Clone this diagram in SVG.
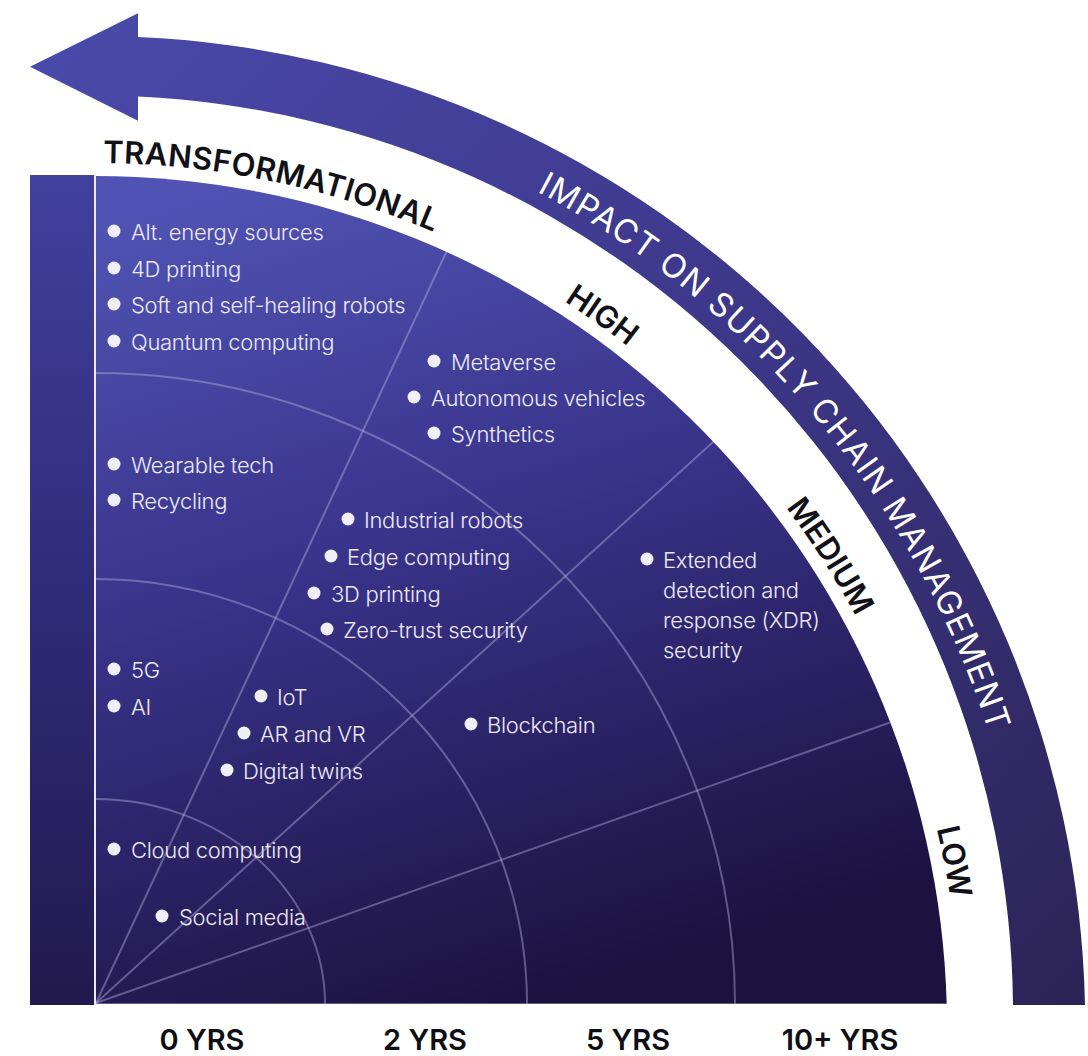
<svg xmlns="http://www.w3.org/2000/svg" width="1088" height="1056" viewBox="0 0 1088 1056">
  <defs>
    <linearGradient id="bandFill" gradientUnits="userSpaceOnUse" x1="60" y1="40" x2="1060" y2="1000">
      <stop offset="0" stop-color="#4949a9"/>
      <stop offset="0.5" stop-color="#3d3789"/>
      <stop offset="1" stop-color="#2c2457"/>
    </linearGradient>
    <linearGradient id="discFill" gradientUnits="userSpaceOnUse" x1="260" y1="176" x2="520" y2="1004">
      <stop offset="0" stop-color="#5053b3"/>
      <stop offset="0.45" stop-color="#39338a"/>
      <stop offset="1" stop-color="#1c1240"/>
    </linearGradient>
    <linearGradient id="barFill" gradientUnits="userSpaceOnUse" x1="0" y1="175" x2="0" y2="1005">
      <stop offset="0" stop-color="#42409e"/>
      <stop offset="0.5" stop-color="#302b78"/>
      <stop offset="1" stop-color="#22194e"/>
    </linearGradient>
    <clipPath id="discClip">
      <path d="M95,1004 L95,176 A852,852 0 0 1 946.7,1004 Z"/>
    </clipPath>
    <!-- baseline for the level labels in the white gap -->
    <path id="levelArc" d="M95,163 A865,865 0 0 1 960,1028"/>
    <!-- baseline for the title inside the curved arrow -->
    <path id="titleArc" d="M95,81 A939,939 0 0 1 1034,1020"/>
    <style>
      .grid { fill: none; stroke: #bdb6e6; stroke-opacity: 0.42; stroke-width: 2; }
      .dot { fill: #f0eff7; }
      .item { font-family: Inter, "Liberation Sans", sans-serif; font-size: 22px; font-weight: 300; fill: #ebe9f4; letter-spacing: -0.3px; }
      .level { font-family: Inter, "Liberation Sans", sans-serif; font-size: 31px; font-weight: 600; fill: #111118; }
      .title { font-family: Inter, "Liberation Sans", sans-serif; font-size: 33px; font-weight: 400; fill: #ffffff; }
      .years { font-family: Inter, "Liberation Sans", sans-serif; font-size: 29px; font-weight: 600; fill: #0e0e15; text-anchor: middle; }
    </style>
  </defs>

  <rect width="1088" height="1056" fill="#ffffff"/>

  <!-- curved arrow band -->
  <g id="impact-arrow">
    <path d="M30,66.7 L138,13.3 L138,37 A990,990 0 0 1 1085,1005 L1013,1005 A918,918 0 0 0 138,96.5 L138,120.7 Z" fill="url(#bandFill)"/>
    <text class="title"><textPath href="#titleArc" startOffset="460" textLength="722" lengthAdjust="spacing">IMPACT ON SUPPLY CHAIN MANAGEMENT</textPath></text>
  </g>

  <!-- left bar -->
  <rect id="side-bar" x="30" y="175" width="64" height="830" fill="url(#barFill)"/>

  <!-- quarter disc -->
  <g id="radar">
    <path d="M95,1004 L95,176 A852,852 0 0 1 946.7,1004 Z" fill="url(#discFill)"/>
  </g>

  <!-- grid: rings and rays -->
  <g id="connectors" clip-path="url(#discClip)">
    <path class="grid" d="M95,799 A230,205 0 0 1 325,1004"/>
    <path class="grid" d="M95,579 A432,425 0 0 1 527,1004"/>
    <path class="grid" d="M95,373 A640,631 0 0 1 735,1004"/>
    <line class="grid" x1="96" y1="1003" x2="520" y2="94"/>
    <line class="grid" x1="96" y1="1003" x2="900" y2="272"/>
    <line class="grid" x1="96" y1="1003" x2="1050" y2="666"/>
    <line class="grid" x1="95" y1="1004" x2="950" y2="1004"/>
  </g>
  <line id="axis" x1="95" y1="175" x2="95" y2="1005" stroke="#ecebf6" stroke-width="2"/>

  <!-- impact levels -->
  <g id="levels">
    <text class="level"><textPath href="#levelArc" startOffset="8" textLength="340" lengthAdjust="spacing">TRANSFORMATIONAL</textPath></text>
    <text class="level" text-anchor="middle"><textPath href="#levelArc" startOffset="535">HIGH</textPath></text>
    <text class="level" text-anchor="middle"><textPath href="#levelArc" startOffset="865">MEDIUM</textPath></text>
    <text class="level" text-anchor="middle"><textPath href="#levelArc" startOffset="1193">LOW</textPath></text>
  </g>

  <!-- time horizon labels -->
  <g id="horizons">
    <text class="years" x="202" y="1050">0 YRS</text>
    <text class="years" x="425" y="1050">2 YRS</text>
    <text class="years" x="628" y="1050">5 YRS</text>
    <text class="years" x="840" y="1050">10+ YRS</text>
  </g>

  <!-- technologies -->
  <g id="alt-energy"><circle class="dot" cx="114" cy="231" r="6.5"/><text class="item" x="131" y="240">Alt. energy sources</text></g>
  <g id="printing-4d"><circle class="dot" cx="114" cy="268" r="6.5"/><text class="item" x="131" y="277">4D printing</text></g>
  <g id="soft-robots"><circle class="dot" cx="114" cy="304" r="6.5"/><text class="item" x="131" y="313">Soft and self-healing robots</text></g>
  <g id="quantum"><circle class="dot" cx="114" cy="341" r="6.5"/><text class="item" x="131" y="350">Quantum computing</text></g>
  <g id="wearable"><circle class="dot" cx="114" cy="464" r="6.5"/><text class="item" x="131" y="473">Wearable tech</text></g>
  <g id="recycling"><circle class="dot" cx="114" cy="500" r="6.5"/><text class="item" x="131" y="509">Recycling</text></g>
  <g id="five-g"><circle class="dot" cx="114" cy="669" r="6.5"/><text class="item" x="131" y="678">5G</text></g>
  <g id="ai"><circle class="dot" cx="114" cy="706" r="6.5"/><text class="item" x="131" y="715">AI</text></g>
  <g id="cloud"><circle class="dot" cx="114" cy="849" r="6.5"/><text class="item" x="131" y="858">Cloud computing</text></g>
  <g id="social"><circle class="dot" cx="162" cy="916" r="6.5"/><text class="item" x="179" y="925">Social media</text></g>

  <g id="metaverse"><circle class="dot" cx="434" cy="361" r="6.5"/><text class="item" x="451" y="370">Metaverse</text></g>
  <g id="autonomous"><circle class="dot" cx="414" cy="397" r="6.5"/><text class="item" x="431" y="406">Autonomous vehicles</text></g>
  <g id="synthetics"><circle class="dot" cx="434" cy="433" r="6.5"/><text class="item" x="451" y="442">Synthetics</text></g>
  <g id="industrial-robots"><circle class="dot" cx="348" cy="519" r="6.5"/><text class="item" x="364" y="528">Industrial robots</text></g>
  <g id="edge"><circle class="dot" cx="331" cy="556" r="6.5"/><text class="item" x="347" y="565">Edge computing</text></g>
  <g id="printing-3d"><circle class="dot" cx="314" cy="593" r="6.5"/><text class="item" x="331" y="602">3D printing</text></g>
  <g id="zero-trust"><circle class="dot" cx="327" cy="629" r="6.5"/><text class="item" x="343" y="638">Zero-trust security</text></g>
  <g id="iot"><circle class="dot" cx="261" cy="696" r="6.5"/><text class="item" x="277" y="705">IoT</text></g>
  <g id="ar-vr"><circle class="dot" cx="244" cy="733" r="6.5"/><text class="item" x="260" y="742">AR and VR</text></g>
  <g id="digital-twins"><circle class="dot" cx="227" cy="770" r="6.5"/><text class="item" x="243" y="779">Digital twins</text></g>
  <g id="blockchain"><circle class="dot" cx="471" cy="724" r="6.5"/><text class="item" x="487" y="733">Blockchain</text></g>
  <g id="xdr"><circle class="dot" cx="647" cy="559" r="6.5"/>
    <text class="item" x="663" y="568">Extended</text>
    <text class="item" x="663" y="598">detection and</text>
    <text class="item" x="663" y="628">response (XDR)</text>
    <text class="item" x="663" y="658">security</text>
  </g>
</svg>
